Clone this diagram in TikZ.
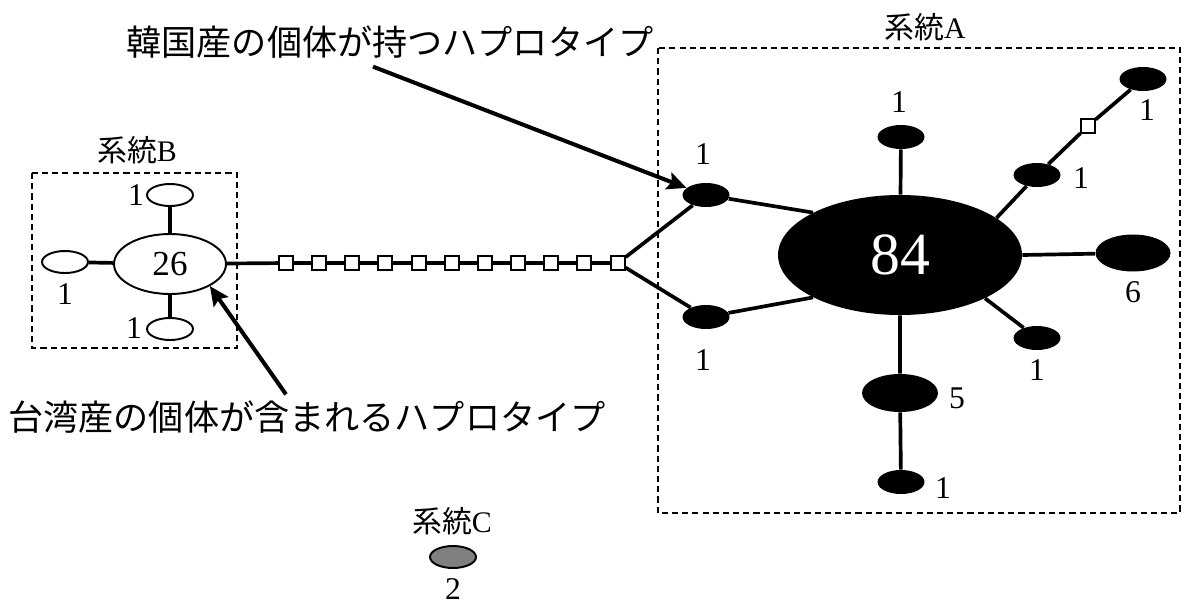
\documentclass[tikz,border=0pt]{standalone}
\usepackage{fontspec}
\setmainfont{Liberation Serif}
\newfontfamily\jp{Noto Sans CJK JP}
\usetikzlibrary{
		arrows.meta,
		shapes.geometric,
		positioning
	}
\tikzset{
		>={Stealth[length=11pt,width=10pt,inset=2pt]},
		wnode/.style={ellipse, draw, fill=white, line width=1.1pt, minimum width=0.92cm, minimum height=0.44cm, inner sep=0pt},
		bnode/.style={ellipse, fill=black, minimum width=0.94cm, minimum height=0.48cm, inner sep=0pt},
		mvsq/.style={rectangle, draw, fill=white, line width=1pt, minimum size=0.27cm, inner sep=0pt},
		link/.style={line width=2.1pt},
		grpbox/.style={draw, line width=0.9pt, dash pattern=on 3.5pt off 2.3pt},
		num/.style={font=\fontsize{18}{21}\selectfont, inner sep=0pt},
		grplabel/.style={font=\fontsize{17}{20}\selectfont, inner sep=0pt},
		note/.style={font=\jp\fontsize{20}{24}\selectfont, inner sep=0pt},
		pointer/.style={->, line width=2.3pt}
	}
\begin{document}
\begin{tikzpicture}[x=0.02cm,y=-0.02cm]
              \useasboundingbox (0,0) rectangle (1184,606);

              % the groups
              \draw[grpbox] (32,173) rectangle (237,348);
              \draw[grpbox] (658,48) rectangle (1180,513);
              \node[grplabel] (labB) at (137,150) {{\jp 系統}B};
              \node[grplabel] (labA) at (925,27) {{\jp 系統}A};
              \node[grplabel] (labC) at (452,521) {{\jp 系統}C};

              % group B
              \node[wnode, minimum width=2.24cm, minimum height=1.2cm, num, font=\fontsize{20}{24}\selectfont] (b26) at (170,264) {26};
              \node[wnode] (bt) at (170,195) {};
              \node[wnode] (bl) at (65,262) {};
              \node[wnode] (bb) at (170,329) {};
              \node[num] at (136,195) {1};
              \node[num] at (65,294) {1};
              \node[num] at (134,328) {1};

              % the missing haplotypes between B and A
              \node[mvsq] (m1) at (286,263) {};
              \node[mvsq] (m2) at (319,263) {};
              \node[mvsq] (m3) at (352,263) {};
              \node[mvsq] (m4) at (385,263) {};
              \node[mvsq] (m5) at (419,263) {};
              \node[mvsq] (m6) at (452,263) {};
              \node[mvsq] (m7) at (485,263) {};
              \node[mvsq] (m8) at (518,263) {};
              \node[mvsq] (m9) at (551,263) {};
              \node[mvsq] (m10) at (584,263) {};
              \node[mvsq] (m11) at (618,263) {};

              % group A
              \node[bnode, minimum width=4.88cm, minimum height=2.4cm, text=white, font=\fontsize{34}{38}\selectfont] (a84) at (900,255) {84};
              \node[bnode] (at) at (901,137) {};
              \node[bnode] (k1) at (706,195) {};
              \node[bnode] (k2) at (706,317) {};
              \node[bnode] (r1) at (1037,175) {};
              \node[mvsq] (rsq) at (1088,126) {};
              \node[bnode] (r2) at (1143,79) {};
              \node[bnode, minimum width=1.5cm, minimum height=0.74cm] (a6) at (1133,253) {};
              \node[bnode] (r3) at (1037,338) {};
              \node[bnode, minimum width=1.52cm, minimum height=0.76cm] (a5) at (900,393) {};
              \node[bnode] (ab) at (901,482) {};
              \node[num] at (899,102) {1};
              \node[num] at (703,154) {1};
              \node[num] at (703,360) {1};
              \node[num] at (1081,178) {1};
              \node[num] at (1147,110) {1};
              \node[num] at (1133,292) {6};
              \node[num] at (1037,370) {1};
              \node[num] at (957,398) {5};
              \node[num] at (943,488) {1};

              % group C
              \node[wnode, fill=black!50] (c2) at (453,557) {};
              \node[num] at (453,589) {2};

              % the links
              \draw[link] (bt) -- (b26);
              \draw[link] (bl) -- (b26);
              \draw[link] (bb) -- (b26);
              \draw[link] (b26) -- (m1) -- (m2) -- (m3) -- (m4) -- (m5) -- (m6)
                               -- (m7) -- (m8) -- (m9) -- (m10) -- (m11);
              \draw[link] (m11) -- (k1);
              \draw[link] (m11) -- (k2);
              \draw[link] (k1) -- (a84.154);
              \draw[link] (k2) -- (a84.206);
              \draw[link] (at) -- (a84);
              \draw[link] (a84.21) -- (r1) -- (rsq) -- (r2);
              \draw[link] (a84.east) -- (a6);
              \draw[link] (a84.-27) -- (r3);
              \draw[link] (a84) -- (a5) -- (ab);

              % the notes and their arrows
              \node[note] (kor) at (390,42) {韓国産の個体が持つハプロタイプ};
              \node[note] (tai) at (307,417) {台湾産の個体が含まれるハプロタイプ};
              \draw[pointer] ([xshift=-0.34cm,yshift=-0.16cm]kor.south) -- (k1.160);
              \draw[pointer] ([xshift=-0.42cm,yshift=0.12cm]tai.north) -- (b26.-29);

          \end{tikzpicture}
\end{document}
